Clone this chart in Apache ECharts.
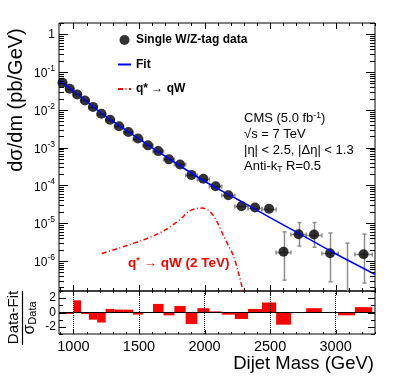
<!DOCTYPE html>
<html>
<head>
<meta charset="utf-8">
<script src="https://cdn.jsdelivr.net/npm/echarts@6/dist/echarts.min.js"></script>
<style>
html, body { margin: 0; padding: 0; background: #fff; }
#chart { width: 399px; height: 383px; }
</style>
</head>
<body>
<div id="chart"></div>
<script>
// dijet mass bin edges (GeV)
var massEdges = [890, 944, 1000, 1058, 1118, 1181, 1246, 1313, 1383, 1455, 1530, 1607, 1687, 1770,
  1856, 1945, 2037, 2132, 2231, 2332, 2438, 2546, 2659, 2775, 2895, 3019, 3147, 3279];
// measured dsigma/dm (pb/GeV), null = empty bin
var dataValues = [0.0525, 0.0363, 0.0257, 0.0178, 0.0120, 0.0079, 0.0055, 0.0037, 0.0026, 0.00174,
  0.00115, 8.1e-4, 4.9e-4, 3.6e-4, 1.9e-4, 1.5e-4, 9.5e-5, 5.5e-5, 2.8e-5, 2.6e-5,
  2.4e-5, 1.75e-6, 5.1e-6, 5.0e-6, 1.6e-6, null, 1.5e-6];
// vertical error bars (only where they stick out of the marker)
var errLow = [null, null, null, null, null, null, null, null, null, null,
  null, null, null, null, null, null, null, null, null, null,
  null, 3.1e-7, 2.5e-6, 2.3e-6, 2.8e-7, 1e-8, 2.6e-7];
var errHigh = [null, null, null, null, null, null, null, null, null, null,
  null, null, null, null, null, null, null, null, null, null,
  null, 5.9e-6, 1.04e-5, 1.04e-5, 5.5e-6, 2.95e-6, 5.1e-6];
// (data-fit)/sigma per bin
var pullValues = [-0.2, -0.2, 1.7, -0.2, -1.0, -1.4, 0.5, 0.4, 0.4, -0.3, -0.05, 1.2, -0.4, 0.9,
  -1.6, 0.6, 0.15, -0.3, -0.9, 0.5, 1.4, -1.7, 0, 0.6, -0.05, -0.4, 0.75];
// fit curve
var fitMass = [890, 1000, 1250, 1500, 1750, 2000, 2250, 2500, 2750, 3000, 3300];
var fitValues = [0.0603, 0.0316, 0.0066, 0.0017, 4.57e-4, 1.29e-4, 4.3e-5, 1.41e-5, 4.68e-6, 1.55e-6, 4.4e-7];
// q* -> qW (2 TeV) signal shape
var signalMass = [1216, 1320, 1417, 1520, 1621, 1700, 1773, 1830, 1875, 1930, 1980, 2030, 2065,
  2105, 2143, 2180, 2219, 2257, 2295, 2330];
var signalValues = [1.58e-6, 2.04e-6, 2.63e-6, 3.47e-6, 4.79e-6, 6.61e-6, 9.77e-6, 1.41e-5, 2.0e-5,
  2.4e-5, 2.51e-5, 2.19e-5, 1.62e-5, 9.3e-6, 4.79e-6, 2.63e-6, 1.41e-6, 5.1e-7, 1.5e-7, 4e-8];
// tick labels
var massLabels = [1000, 1500, 2000, 2500, 3000];
var pullLabels = [-2, 0, 2];

var X_MIN = 890, X_MAX = 3300, Y_MIN = 1.6e-7, Y_MAX = 2;
var FONT = 'Liberation Sans, Arial, Helvetica, sans-serif';
var ERR_COLOR = '#8c8c8c';

var chart = echarts.init(document.getElementById('chart'));

var pointData = [], errData = [], pullData = [];
for (var i = 0; i < dataValues.length; i++) {
  var lo = massEdges[i], hi = massEdges[i + 1];
  var mid = (lo + hi) / 2;
  if (dataValues[i] != null) pointData.push([mid, dataValues[i]]);
  errData.push([lo, hi, dataValues[i] == null ? '-' : dataValues[i],
    errLow[i] == null ? '-' : errLow[i], errHigh[i] == null ? '-' : errHigh[i]]);
  pullData.push([lo, hi, pullValues[i]]);
}
var fitData = fitMass.map(function (m, i) { return [m, fitValues[i]]; });
var signalData = signalMass.map(function (m, i) { return [m, signalValues[i]]; });

// tick positions
var xMinorTicks = [];
for (var m = 900; m <= 3300; m += 100) xMinorTicks.push(m);
var yMajorTicks = [], yMinorTicks = [];
for (var e = -7; e <= 0; e++) {
  var p = Math.pow(10, e);
  if (p >= Y_MIN && p <= Y_MAX) yMajorTicks.push(p);
  for (var k = 2; k <= 9; k++) {
    if (k * p >= Y_MIN && k * p <= Y_MAX) yMinorTicks.push(k * p);
  }
}

function crisp(v) { return Math.round(v) + 0.5; }

function seg(list, x1, y1, x2, y2, color, w) {
  list.push({ type: 'line', shape: { x1: x1, y1: y1, x2: x2, y2: y2 },
    style: { stroke: color || '#000', lineWidth: w || 1 } });
}

function makeTicks(xMajor, xMinor, yMajor, yMinor, yRef, xRef, len) {
  return function (params, api) {
    var cs = params.coordSys;
    var l = cs.x, r = cs.x + cs.width, t = cs.y, b = cs.y + cs.height;
    var ch = [];
    function xt(v, n) {
      var px = crisp(api.coord([v, yRef])[0]);
      seg(ch, px, b, px, b - n); seg(ch, px, t, px, t + n);
    }
    function yt(v, n) {
      var py = crisp(api.coord([xRef, v])[1]);
      seg(ch, l, py, l + n, py); seg(ch, r, py, r - n, py);
    }
    xMinor.forEach(function (v) { xt(v, len[1]); });
    xMajor.forEach(function (v) { xt(v, len[0]); });
    yMinor.forEach(function (v) { yt(v, len[3]); });
    yMajor.forEach(function (v) { yt(v, len[2]); });
    return { type: 'group', children: ch };
  };
}

function renderErrors(params, api) {
  var x0 = api.value(0), x1 = api.value(1), y = api.value(2);
  var yl = api.value(3), yh = api.value(4);
  var ch = [];
  if (!isNaN(y) && y > 0) {
    var a = api.coord([x0, y]), b = api.coord([x1, y]);
    var py = crisp(a[1]);
    seg(ch, a[0], py, b[0], py, ERR_COLOR, 1.5);
    seg(ch, a[0], py - 2, a[0], py + 2, ERR_COLOR, 1.5);
    seg(ch, b[0], py - 2, b[0], py + 2, ERR_COLOR, 1.5);
  }
  if (!isNaN(yl) && !isNaN(yh)) {
    var xc = (x0 + x1) / 2;
    var top = api.coord([xc, yh]), bot = api.coord([xc, Math.max(yl, Y_MIN)]);
    var px = crisp(top[0]);
    seg(ch, px, top[1], px, bot[1], ERR_COLOR, 1.5);
    seg(ch, px - 2, top[1], px + 2, top[1], ERR_COLOR, 1.5);
    if (yl >= Y_MIN) seg(ch, px - 2, bot[1], px + 2, bot[1], ERR_COLOR, 1.5);
  }
  return { type: 'group', children: ch };
}

function renderPull(params, api) {
  var x1 = Math.min(api.value(1), X_MAX);
  var p0 = api.coord([api.value(0), 0]);
  var p1 = api.coord([x1, api.value(2)]);
  return { type: 'rect',
    shape: { x: p0[0], y: Math.min(p0[1], p1[1]), width: p1[0] - p0[0], height: Math.abs(p1[1] - p0[1]) },
    style: { fill: '#ff0000' } };
}

chart.setOption({
  animation: false,
  backgroundColor: '#fff',
  textStyle: { fontFamily: FONT, color: '#000' },
  grid: [
    { left: 59, top: 23, width: 316, height: 268, show: true, borderColor: '#000', borderWidth: 1 },
    { left: 59, top: 291, width: 316, height: 43, show: true, borderColor: '#000', borderWidth: 1 }
  ],
  legend: {
    orient: 'vertical', left: 117, top: 34, padding: 0, itemWidth: 13, itemHeight: 10, itemGap: 12.5,
    selectedMode: false,
    textStyle: { fontFamily: FONT, fontSize: 12, fontWeight: 'bold', color: '#000' },
    data: [
      { name: 'Single W/Z-tag data', icon: 'circle' },
      { name: 'Fit', itemStyle: { opacity: 0 } },
      { name: 'q* → qW', itemStyle: { opacity: 0 } }
    ]
  },
  xAxis: [
    { type: 'value', gridIndex: 0, min: X_MIN, max: X_MAX,
      axisLine: { show: false }, axisTick: { show: false }, axisLabel: { show: false }, splitLine: { show: false } },
    { type: 'value', gridIndex: 1, min: X_MIN, max: X_MAX,
      axisLine: { show: false }, axisTick: { show: false }, splitLine: { show: false },
      axisLabel: { customValues: massLabels, fontSize: 14.5, color: '#000', margin: 5, fontFamily: FONT,
        formatter: function (v) { return String(v); } } }
  ],
  yAxis: [
    { type: 'log', logBase: 10, gridIndex: 0, min: Y_MIN, max: Y_MAX,
      axisLine: { show: false }, axisTick: { show: false }, splitLine: { show: false },
      axisLabel: {
        margin: 4, color: '#000', fontFamily: FONT, showMinLabel: false, showMaxLabel: false,
        formatter: function (v) {
          var lg = Math.log10(v), r = Math.round(lg);
          if (Math.abs(lg - r) > 1e-6) return '';
          if (r === 0) return '{b|1}';
          return '{b|10}{s|' + r + '}';
        },
        rich: {
          b: { fontSize: 12, fontFamily: FONT, color: '#000', verticalAlign: 'bottom' },
          s: { fontSize: 8.5, fontFamily: FONT, color: '#000', verticalAlign: 'top', padding: [0, 0, 7, 0] }
        }
      } },
    { type: 'value', gridIndex: 1, min: -3, max: 3, interval: 1,
      axisLine: { show: false }, axisTick: { show: false }, splitLine: { show: false },
      axisLabel: { customValues: pullLabels, fontSize: 12, color: '#000', margin: 3, fontFamily: FONT,
        formatter: function (v) { return String(v); } } }
  ],
  series: [
    { type: 'custom', name: 'errors', xAxisIndex: 0, yAxisIndex: 0, z: 2, silent: true,
      renderItem: renderErrors, data: errData, encode: { x: [0, 1], y: [2] } },
    { type: 'scatter', name: 'Single W/Z-tag data', xAxisIndex: 0, yAxisIndex: 0, z: 3,
      symbol: 'circle', symbolSize: 10, itemStyle: { color: '#000' }, data: pointData },
    { type: 'line', name: 'Fit', xAxisIndex: 0, yAxisIndex: 0, z: 4, smooth: 0.3,
      symbol: 'none', lineStyle: { color: '#0000ff', width: 1.5 }, itemStyle: { color: '#0000ff' },
      data: fitData },
    { type: 'line', name: 'q* → qW', xAxisIndex: 0, yAxisIndex: 0, z: 4, smooth: 0.3, clip: true,
      symbol: 'none', lineStyle: { color: '#ff0000', width: 1.5, type: [5, 2.5, 1, 2.5] },
      itemStyle: { color: '#ff0000' }, data: signalData },
    { type: 'custom', name: 'pull', xAxisIndex: 1, yAxisIndex: 1, z: 2, silent: true,
      renderItem: renderPull, data: pullData, encode: { x: [0, 1], y: [2] },
      markLine: {
        silent: true, symbol: 'none', label: { show: false }, animation: false,
        lineStyle: { color: '#000', type: 'dotted', width: 1 },
        data: massLabels.map(function (v) { return { xAxis: v }; })
          .concat([{ yAxis: 0, lineStyle: { type: 'solid', color: '#000', width: 1 } }])
      } },
    { type: 'custom', name: 'ticksMain', xAxisIndex: 0, yAxisIndex: 0, z: 5, silent: true,
      renderItem: makeTicks(massLabels, xMinorTicks, yMajorTicks, yMinorTicks, 1e-3, 2000, [6, 3, 9, 5]),
      data: [[2000, 1e-3]] },
    { type: 'custom', name: 'ticksPull', xAxisIndex: 1, yAxisIndex: 1, z: 5, silent: true,
      renderItem: makeTicks(massLabels, xMinorTicks, [-2, 0, 2], [-3, -1, 1, 3], 0, 2000, [4, 2, 7, 4]),
      data: [[2000, 0]] }
  ],
  graphic: [
    { type: 'text', x: 16, y: 100, rotation: Math.PI / 2,
      style: { text: 'dσ/dm (pb/GeV)', fontSize: 20, fontFamily: FONT, fill: '#000', align: 'center', verticalAlign: 'middle' } },
    { type: 'text', x: 374, y: 364,
      style: { text: 'Dijet Mass (GeV)', fontSize: 18.5, fontFamily: FONT, fill: '#000', align: 'right', verticalAlign: 'middle' } },
    { type: 'text', x: 13.5, y: 317.5, rotation: Math.PI / 2,
      style: { text: 'Data-Fit', fontSize: 15, fontFamily: FONT, fill: '#000', align: 'center', verticalAlign: 'middle' } },
    { type: 'line', shape: { x1: 22.5, y1: 291, x2: 22.5, y2: 345 }, style: { stroke: '#000', lineWidth: 1.2 } },
    { type: 'text', x: 30, y: 318, rotation: Math.PI / 2,
      style: { text: '{g|σ}{d|Data}', fontFamily: FONT, fill: '#000', align: 'center', verticalAlign: 'middle',
        rich: { g: { fontSize: 16, fontFamily: FONT, fill: '#000', verticalAlign: 'top' },
                d: { fontSize: 11, fontFamily: FONT, fill: '#000', verticalAlign: 'bottom', padding: [6, 0, 0, 0] } } } },
    { type: 'text', x: 244, y: 111,
      style: { text: 'CMS (5.0 fb{sup|-1})\n√s = 7 TeV\n|η| < 2.5, |Δη| < 1.3\nAnti-k{sub|T} R=0.5',
        fontSize: 13, fontFamily: FONT, fill: '#000', lineHeight: 15.7,
        rich: { sup: { fontSize: 8.5, fontFamily: FONT, fill: '#000', verticalAlign: 'top', lineHeight: 15.7 },
                sub: { fontSize: 8.5, fontFamily: FONT, fill: '#000', verticalAlign: 'bottom', lineHeight: 15.7, padding: [6, 0, 0, 0] } } } },
    { type: 'text', x: 128, y: 263,
      style: { text: 'q{sup|*} → qW (2 TeV)', fontSize: 13.5, fontWeight: 'bold', fontFamily: FONT, fill: '#ff0000',
        verticalAlign: 'middle',
        rich: { sup: { fontSize: 9, fontWeight: 'bold', fontFamily: FONT, fill: '#ff0000', verticalAlign: 'top', padding: [0, 0, 5, 0] } } } }
  ]
});
</script>
</body>
</html>
